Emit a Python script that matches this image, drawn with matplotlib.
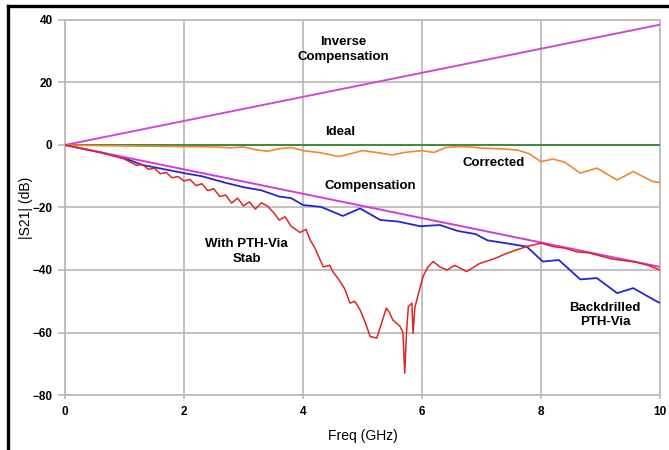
import numpy as np
import matplotlib.pyplot as plt
from matplotlib.lines import Line2D

# straight reference traces
ideal_f = [0, 10]
ideal_db = [0, 0]
inv_comp_f = [0, 10]
inv_comp_db = [0, 38.5]
comp_f = [0, 10]
comp_db = [0, -39]

# corrected response
corr_f = [0, 0.5, 1.0, 1.5, 2.0, 2.5, 2.8, 3.0, 3.2, 3.4, 3.6, 3.8, 4.0, 4.3, 4.6, 4.8,
          5.0, 5.2, 5.5, 5.7, 6.0, 6.2, 6.4, 6.6, 6.8, 7.0, 7.3, 7.6, 7.8, 8.0, 8.2, 8.4,
          8.66, 8.94, 9.28, 9.55, 9.88, 10.0]
corr_db = [0, -0.2, -0.3, -0.4, -0.5, -0.6, -0.9, -0.6, -1.5, -2.0, -1.2, -0.8, -1.8, -2.5,
           -3.7, -2.8, -1.8, -2.3, -3.2, -2.4, -1.8, -2.4, -0.8, -0.5, -0.6, -1.0, -1.2, -1.6,
           -2.8, -5.3, -4.5, -5.5, -9.0, -7.4, -11.2, -8.5, -11.7, -12.0]

# backdrilled PTH-via
back_f = [0, 0.3, 0.6, 1.0, 1.3, 1.6, 2.0, 2.3, 2.72, 3.0, 3.3, 3.6, 3.8, 4.0, 4.3, 4.67,
          4.96, 5.3, 5.6, 5.97, 6.3, 6.6, 6.9, 7.1, 7.4, 7.76, 8.03, 8.3, 8.66, 8.94, 9.28,
          9.55, 9.95, 10.0]
back_db = [0, -1.2, -2.4, -4.2, -6.4, -7.5, -9.0, -10.0, -12.2, -13.5, -14.5, -16.5, -17.0,
           -19.2, -19.8, -22.7, -20.3, -24.0, -24.5, -26.0, -25.6, -27.5, -28.5, -30.5, -31.4,
           -32.5, -37.3, -36.8, -43.0, -42.6, -47.4, -45.8, -50.1, -50.5]

# PTH-via with stub
stub_f = [0, 0.3, 0.6, 1.0, 1.2, 1.3, 1.4, 1.5, 1.6, 1.7, 1.8, 1.9, 2.0, 2.1, 2.2, 2.3, 2.4,
          2.5, 2.6, 2.7, 2.8, 2.9, 3.0, 3.1, 3.2, 3.3, 3.4, 3.5, 3.6, 3.7, 3.8, 3.95, 4.05,
          4.12, 4.2, 4.34, 4.45, 4.5, 4.6, 4.7, 4.79, 4.87, 4.96, 5.05, 5.13, 5.24, 5.32, 5.4,
          5.45, 5.51, 5.63, 5.68, 5.71, 5.74, 5.77, 5.83, 5.85, 5.88, 5.92, 6.02, 6.1, 6.19,
          6.3, 6.42, 6.55, 6.75, 6.97, 7.2, 7.42, 7.6, 7.76, 8.0, 8.2, 8.4, 8.6, 8.8, 9.0,
          9.2, 9.4, 9.6, 9.8, 10.0]
stub_db = [0, -1.2, -2.4, -4.5, -6.5, -6.2, -7.8, -7.4, -9.2, -8.8, -10.5, -10.1, -11.5, -11.0,
           -13.0, -12.4, -14.6, -14.0, -16.5, -16.0, -18.6, -17.0, -19.5, -18.2, -20.5, -18.5,
           -19.5, -21.5, -24.0, -23.0, -26.0, -28.0, -27.0, -30.4, -33.0, -39.0, -38.5, -40.5,
           -43.0, -46.0, -50.6, -50.0, -52.8, -57.0, -61.3, -61.8, -57.0, -52.2, -53.5, -56.0,
           -58.0, -60.0, -73.0, -60.0, -51.7, -50.6, -60.3, -52.0, -49.0, -42.0, -39.0, -37.3,
           -39.0, -40.0, -38.5, -40.5, -37.9, -36.5, -34.7, -33.5, -32.5, -31.4, -32.5, -33.0,
           -34.2, -34.5, -35.5, -36.5, -37.0, -37.5, -38.5, -40.0]

x_ticks = [0, 2, 4, 6, 8, 10]
y_ticks = [-80, -60, -40, -20, 0, 20, 40]

plt.rcParams['font.family'] = ['Liberation Sans', 'DejaVu Sans']

fig = plt.figure(figsize=(6.69, 4.5), dpi=100)
ax = fig.add_axes([0.0972, 0.1222, 0.8893, 0.8334])

grid_c = '#b8b8b8'
ax.plot(ideal_f, ideal_db, color='#3c8c3c', lw=1.4, zorder=3)
ax.plot(corr_f, corr_db, color='#f0892e', lw=1.2, zorder=4)
ax.plot(inv_comp_f, inv_comp_db, color='#d546d5', lw=1.4, zorder=3)
ax.plot(back_f, back_db, color='#2626d0', lw=1.3, zorder=3)
ax.plot(comp_f, comp_db, color='#d43cd4', lw=1.4, zorder=4)
ax.plot(stub_f, stub_db, color='#e02424', lw=1.1, zorder=5)

ax.set_xlim(0, 10)
ax.set_ylim(-80, 40)
ax.set_xticks(x_ticks)
ax.set_yticks(y_ticks)
ax.grid(True, color=grid_c, lw=1.2)
ax.set_axisbelow(True)
for s in ax.spines.values():
    s.set_color(grid_c)
    s.set_linewidth(1.2)
ax.tick_params(axis='y', length=5, color=grid_c, width=1.2, pad=4, labelsize=8.5)
ax.tick_params(axis='x', length=3, color=grid_c, width=1.2, pad=5, labelsize=8.5)
for lab in ax.get_xticklabels() + ax.get_yticklabels():
    lab.set_fontweight('bold')

ax.set_xlabel('Freq (GHz)', fontsize=10, labelpad=8)
ax.set_ylabel('|S21| (dB)', fontsize=10, labelpad=0)

txt = dict(fontsize=9.5, fontweight='bold', ha='center', va='center', linespacing=1.3, zorder=6)
ax.text(4.67, 30.5, 'Inverse\nCompensation', **txt)
ax.text(4.62, 4.2, 'Ideal', **txt)
ax.text(7.2, -5.8, 'Corrected', **txt)
ax.text(5.13, -13, 'Compensation', **txt)
ax.text(3.05, -34, 'With PTH-Via\nStab', **txt)
ax.text(9.08, -54.4, 'Backdrilled\nPTH-Via', **txt)

# black frame on top and left edge of the image
fig.add_artist(Line2D([7.5 / 669, 1], [1 - 5.5 / 450, 1 - 5.5 / 450], color='black', lw=2.4))
fig.add_artist(Line2D([7.5 / 669, 7.5 / 669], [0, 1 - 5.5 / 450], color='black', lw=2.4))

fig.savefig('out.png', dpi=100)
